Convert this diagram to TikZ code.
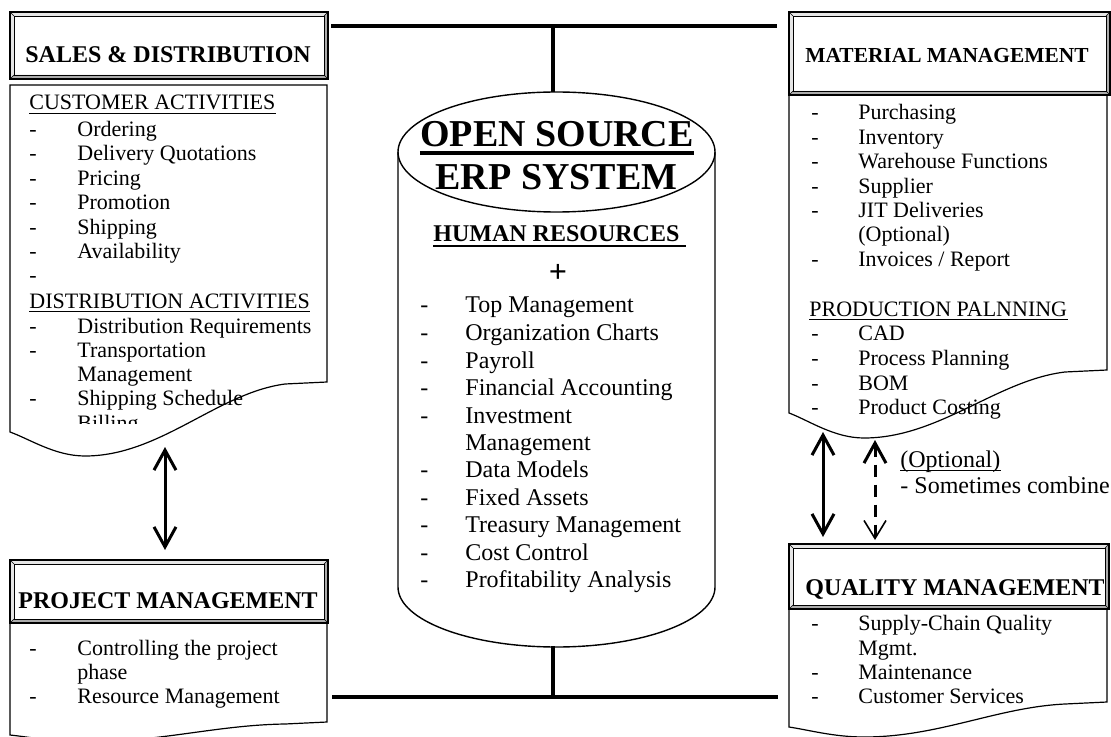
\documentclass[tikz,border=0pt]{standalone}
\usepackage{fontspec}
\setmainfont{Liberation Serif}
\usetikzlibrary{arrows.meta,calc}

\tikzset{
  itm/.style={anchor=base west, inner sep=0pt, font=\fontsize{11}{13}\selectfont},
  big/.style={anchor=base west, inner sep=0pt, font=\fontsize{12}{14}\selectfont},
  hdr/.style={anchor=base west, inner sep=0pt, font=\bfseries\fontsize{12}{14}\selectfont},
  bus/.style={line width=2pt},
  ulin/.style={line width=0.6pt},
  dblarrow/.style={line width=1.5pt,
    {Straight Barb[length=10pt,width=11pt]}-{Straight Barb[length=10pt,width=11pt]}},
}

\begin{document}
\begin{tikzpicture}[x=0.5pt, y=-0.5pt]
\useasboundingbox (0,0) rectangle (1111,737);
\clip (0,0) rectangle (1111,737);

% header frames
\foreach \xa/\ya/\xb/\yb in
{   10/12/328/79,
    789/12/1110/95,
    10/560/328/623,
    789/544/1109/609
}
{
    \fill[gray!20] (\xa,\ya) -- (\xb,\ya) -- (\xb-4,\ya+4) -- (\xa+4,\ya+4) -- (\xa+4,\yb-4) -- (\xa,\yb) -- cycle;
    \fill[gray!65] (\xb,\yb) -- (\xa,\yb) -- (\xa+4,\yb-4) -- (\xb-4,\yb-4) -- (\xb-4,\ya+4) -- (\xb,\ya) -- cycle;
    \draw[line width=0.7pt] (\xa,\ya) rectangle (\xb,\yb);
    \draw[line width=0.4pt] (\xa+4,\ya+4) rectangle (\xb-4,\yb-4);
    \draw[line width=0.3pt] (\xa,\ya) -- (\xa+4,\ya+4) (\xb,\ya) -- (\xb-4,\ya+4)
        (\xa,\yb) -- (\xa+4,\yb-4) (\xb,\yb) -- (\xb-4,\yb-4);
};

% document bodies
\foreach \xa/\xb/\yt/\yr/\yl/\yd in
{   10/327/85/382/432/456,
    789/1107/95/370/413/438,
    789/1107/609/702/727/737,
    10/327/623/722/735/742
}
{
    \draw[line width=0.6pt] (\xa,\yt) -- (\xb,\yt) -- (\xb,\yr) -- (\xb-42,\yr+2)
        .. controls (\xb-110,\yr+0.15*\yd-0.15*\yr) and (\xa+150,\yd) .. (\xa+75,\yd)
        .. controls (\xa+45,\yd) and (\xa+20,\yl+0.3*\yd-0.3*\yl) .. (\xa,\yl) -- cycle;
};

% cylinder
\coordinate (cCylTop) at (553,92);
\coordinate (cCylBot) at (553,646);
\draw[line width=0.7pt] (398,152) -- (398,587)
    arc[start angle=180, end angle=360, x radius=79.25pt, y radius=30pt] -- (715,152);
\draw[line width=0.7pt] (556.5,152) ellipse [x radius=79.25pt, y radius=30pt];

\node[anchor=base, inner sep=0pt, font=\bfseries\fontsize{19}{21}\selectfont] (erpA) at (557,147) {OPEN SOURCE};
\draw[line width=2pt] ([yshift=-3pt]erpA.base west) -- ([yshift=-3pt]erpA.base east);
\node[anchor=base, inner sep=0pt, font=\bfseries\fontsize{19}{21}\selectfont] (erpB) at (556.5,190) {ERP SYSTEM};
\node[hdr] (hrTitle) at (433,242) {HUMAN RESOURCES};
\draw[line width=1.2pt] ([yshift=-2pt]hrTitle.base west) -- ([yshift=-2pt,xshift=3pt]hrTitle.base east);
\node[inner sep=0pt, font=\bfseries\fontsize{16}{18}\selectfont] (hrPlus) at (558,273) {\textbf{+}};

\foreach \y/\t in
{   313/Top Management,
    340/Organization Charts,
    368/Payroll,
    395/Financial Accounting,
    423/Investment,
    477/Data Models,
    505/Fixed Assets,
    532/Treasury Management,
    560/Cost Control,
    587/Profitability Analysis
}
{
    \node[big] (hrD\y) at (420,\y) {-};
    \node[big] (hrT\y) at (465,\y) {\t};
};
\node[big] (hrT450) at (465,450) {Management};

% sales & distribution
\node[hdr] (sdHead) at (25,63) {SALES \& DISTRIBUTION};
\node[itm] (sdCust) at (29,110) {CUSTOMER ACTIVITIES};
\draw[ulin] ([yshift=-1.6pt]sdCust.base west) -- ([yshift=-1.6pt]sdCust.base east);
\node[itm] (sdDist) at (29,308) {DISTRIBUTION ACTIVITIES};
\draw[ulin] ([yshift=-1.6pt]sdDist.base west) -- ([yshift=-1.6pt]sdDist.base east);
\foreach \y/\t in
{   137/Ordering,
    161/Delivery Quotations,
    186/Pricing,
    210/Promotion,
    235/Shipping,
    259/Availability,
    333/Distribution Requirements,
    357/Transportation,
    405/Shipping Schedule
}
{
    \node[itm] (sdD\y) at (29,\y) {-};
    \node[itm] (sdT\y) at (77,\y) {\t};
};
\node[itm] (sdD283) at (29,283) {-};
\node[itm] (sdT381) at (77,381) {Management};
\begin{scope}
\clip (10,85) rectangle (327,423);
\node[itm] (sdD430) at (29,430) {-};
\node[itm] (sdT430) at (77,430) {Billing};
\end{scope}

% material management
\node[hdr, font=\bfseries\fontsize{10.7}{13}\selectfont] (mmHead) at (805,63) {MATERIAL MANAGEMENT};
\foreach \y/\t in
{   120/Purchasing,
    145/Inventory,
    169/Warehouse Functions,
    194/Supplier,
    218/JIT Deliveries,
    267/{Invoices / Report},
    340/CAD,
    365/Process Planning,
    390/BOM,
    414/Product Costing
}
{
    \node[itm] (mmD\y) at (811,\y) {-};
    \node[itm] (mmT\y) at (858,\y) {\t};
};
\node[itm] (mmT242) at (858,242) {(Optional)};
\node[itm] (mmProd) at (809,316) {PRODUCTION PALNNING};
\draw[ulin] ([yshift=-1.6pt]mmProd.base west) -- ([yshift=-1.6pt]mmProd.base east);

% project management
\node[hdr] (pmHead) at (18,608) {PROJECT MANAGEMENT};
\foreach \y/\t in
{   655/Controlling the project,
    703/Resource Management
}
{
    \node[itm] (pmD\y) at (29,\y) {-};
    \node[itm] (pmT\y) at (77,\y) {\t};
};
\node[itm] (pmT679) at (77,679) {phase};

% quality management
\begin{scope}
\clip (789,544) rectangle (1103,609);
\node[hdr] (qmHead) at (805,595) {QUALITY MANAGEMENT};
\end{scope}
\foreach \y/\t in
{   630/Supply-Chain Quality,
    679/Maintenance,
    703/Customer Services
}
{
    \node[itm] (qmD\y) at (811,\y) {-};
    \node[itm] (qmT\y) at (858,\y) {\t};
};
\node[itm] (qmT655) at (858,655) {Mgmt.};

% buses
\coordinate (cTopL) at (331,26);
\coordinate (cTopR) at (777,26);
\coordinate (cTopM) at (553,26);
\coordinate (cBotL) at (332,697);
\coordinate (cBotR) at (778,697);
\coordinate (cBotM) at (553,697);
\draw[bus] (cTopL) -- (cTopR);
\draw[bus] (cTopM) -- (cCylTop);
\draw[bus] (cBotL) -- (cBotR);
\draw[bus] (cCylBot) -- (cBotM);

% arrows
\coordinate (cSdLow) at (165,447);
\coordinate (cPmTop) at (165,550);
\coordinate (cMmLow) at (823,432);
\coordinate (cQmTop) at (823,537);
\coordinate (cMmDip) at (875,440);
\coordinate (cQmTopB) at (875,540);
\draw[dblarrow] (cSdLow) -- (cPmTop);
\draw[dblarrow] (cMmLow) -- (cQmTop);
\draw[line width=1.5pt, dash pattern=on 6pt off 4pt,
    {Straight Barb[length=10pt,width=11pt]}-{Straight Barb[length=9pt,width=11pt,line width=0.8pt]}]
    (cMmDip) -- (cQmTopB);

\node[big] (optA) at (900,467) {(Optional)};
\draw[ulin] ([yshift=-1.8pt]optA.base west) -- ([yshift=-1.8pt]optA.base east);
\node[big] (optB) at (900,493) {- Sometimes combine};

\end{tikzpicture}
\end{document}
